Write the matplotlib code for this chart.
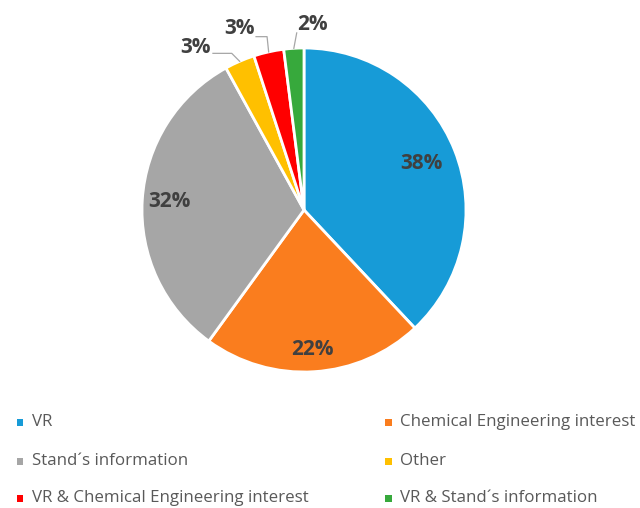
import matplotlib
matplotlib.use("Agg")
import matplotlib.pyplot as plt
import numpy as np

categories = ["VR", "Chemical Engineering interest", "Stand\u00b4s information",
              "Other", "VR & Chemical Engineering interest", "VR & Stand\u00b4s information"]
values = [38, 22, 32, 3, 3, 2]
colors = ["#179BD7", "#FA7D1E", "#A6A6A6", "#FFC000", "#FF0000", "#37A93C"]

plt.rcParams['font.family'] = ['Open Sans', 'DejaVu Sans']

W, H = 640, 508
fig = plt.figure(figsize=(W / 100, H / 100), dpi=100)
cx, cy, R = 304, 210, 162
ax = fig.add_axes([(cx - R) / W, 1 - (cy + R) / H, 2 * R / W, 2 * R / H])

wedges, _ = ax.pie(values, colors=colors, startangle=90, counterclock=False,
                   radius=1, wedgeprops=dict(edgecolor='white', linewidth=2))
ax.set_xlim(-1, 1)
ax.set_ylim(-1, 1)
ax.set_aspect('equal')
ax.axis('off')
for w in wedges:
    w.set_clip_on(False)

total = sum(values)
labels = [f"{v / total * 100:.0f}%" for v in values]
inner_r = [0.78, 0.86, 0.83]
# outside label layout: (elbow, end, text pos, ha)
outside = [
    ((-0.446, 0.967), (-0.562, 0.967), (-0.575, 1.006), 'right'),
    ((-0.228, 1.07), (-0.296, 1.07), (-0.305, 1.123), 'right'),
    (None, (-0.045, 1.093), (-0.04, 1.142), 'left'),
]
lab_kw = dict(fontsize=15, fontweight='bold', color='#404040', va='center')
for i, w in enumerate(wedges):
    mid = np.deg2rad((w.theta1 + w.theta2) / 2)
    if i < 3:
        r = inner_r[i]
        ax.text(r * np.cos(mid), r * np.sin(mid), labels[i], ha='center', **lab_kw)
    else:
        elbow, end, tpos, ha = outside[i - 3]
        pts = [(np.cos(mid), np.sin(mid))]
        if elbow is not None:
            pts.append(elbow)
        pts.append(end)
        xs, ys = zip(*pts)
        ax.plot(xs, ys, color='#A6A6A6', lw=0.9, clip_on=False)
        ax.text(tpos[0], tpos[1], labels[i], ha=ha, clip_on=False, **lab_kw)

# legend
col_x = [20, 388]
row_y = [422, 461, 498]
for i, (cat, col) in enumerate(zip(categories, colors)):
    x = col_x[i % 2]
    y = row_y[i // 2]
    fig.patches.append(plt.Rectangle(((x - 3.5) / W, 1 - (y + 3.5) / H), 7 / W, 7 / H,
                                     transform=fig.transFigure, facecolor=col, edgecolor='none'))
    fig.text((x + 12) / W, 1 - y / H, cat, fontsize=12.2, color='#595959', va='center', ha='left')

fig.savefig("out.png", dpi=100)
